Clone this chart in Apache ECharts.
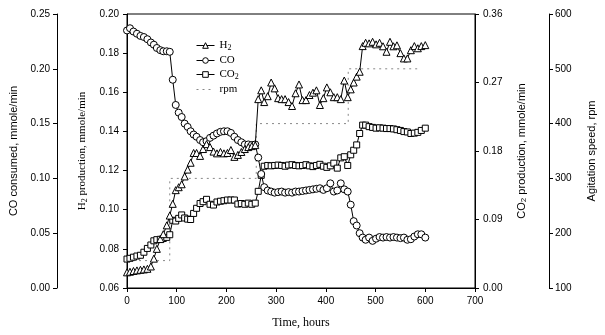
<!DOCTYPE html>
<html><head><meta charset="utf-8">
<script src="https://cdn.jsdelivr.net/npm/echarts@6/dist/echarts.min.js"></script>
<style>html,body{margin:0;padding:0;background:#fff}#c{width:605px;height:335px}</style>
</head><body><div id="c"></div>
<script>
const hours = [0,6,13,20,27,34,41,48,54,60,67,73,80,86,92,98,104,110,116,122,128,134,140,147,153,160,167,174,181,188,195,202,209,216,223,230,237,244,251,258,264,270,276,283,290,297,304,311,318,325,332,339,346,353,360,367,374,381,388,395,402,409,416,423,430,437,444,450,456,462,468,474,480,487,494,501,508,515,522,529,536,543,550,557,564,571,578,585,592,600];
const h2 = [0.068,0.0683,0.0687,0.069,0.0693,0.0695,0.0698,0.071,0.075,0.080,0.085,0.0875,0.092,0.097,0.103,0.110,0.1115,0.113,0.117,0.1205,0.124,0.129,0.129,0.1275,0.131,0.1335,0.132,0.1297,0.1288,0.1295,0.1288,0.129,0.1305,0.127,0.128,0.1295,0.131,0.132,0.1325,0.133,0.1565,0.161,0.155,0.158,0.165,0.162,0.157,0.1565,0.1565,0.155,0.153,0.1595,0.164,0.156,0.156,0.1586,0.1598,0.161,0.1535,0.157,0.1625,0.160,0.1575,0.1575,0.1565,0.166,0.1575,0.1615,0.165,0.168,0.1705,0.1836,0.1853,0.185,0.1858,0.1845,0.1853,0.1835,0.1807,0.1858,0.1835,0.184,0.180,0.1773,0.1773,0.1815,0.1836,0.1825,0.1836,0.1841];
const co = [0.235,0.237,0.234,0.232,0.230,0.229,0.227,0.224,0.222,0.219,0.217,0.216,0.216,0.2155,0.190,0.167,0.160,0.156,0.150,0.147,0.143,0.140,0.138,0.135,0.133,0.134,0.137,0.139,0.141,0.1425,0.143,0.143,0.1415,0.138,0.135,0.133,0.131,0.131,0.1305,0.131,0.119,0.104,0.092,0.089,0.088,0.087,0.0875,0.088,0.087,0.0875,0.087,0.088,0.088,0.0885,0.089,0.0895,0.090,0.0905,0.091,0.0895,0.091,0.0955,0.088,0.089,0.0955,0.090,0.088,0.076,0.061,0.057,0.050,0.046,0.044,0.046,0.043,0.045,0.0465,0.046,0.0465,0.046,0.0465,0.046,0.0455,0.046,0.044,0.0445,0.047,0.049,0.049,0.046];
const co2 = [0.038,0.039,0.0405,0.042,0.043,0.047,0.052,0.0565,0.062,0.0635,0.064,0.065,0.0665,0.070,0.089,0.088,0.0915,0.096,0.092,0.0905,0.090,0.098,0.1047,0.111,0.1134,0.1165,0.110,0.109,0.113,0.114,0.1147,0.1156,0.1156,0.1156,0.1103,0.111,0.110,0.1115,0.110,0.1115,0.127,0.148,0.160,0.161,0.1605,0.161,0.1615,0.161,0.160,0.1615,0.162,0.161,0.1605,0.161,0.162,0.1605,0.1595,0.161,0.1625,0.160,0.1585,0.1605,0.164,0.1575,0.171,0.1725,0.161,0.175,0.181,0.188,0.203,0.214,0.214,0.212,0.211,0.210,0.2105,0.210,0.2095,0.2095,0.209,0.208,0.207,0.2055,0.205,0.203,0.2035,0.2045,0.207,0.210];
const rpmHours = [0,86,86,260,260,445,445,585];
const rpmValues = [150,150,300,300,400,400,500,500];
const xTicks = {min:0,max:700,interval:100};

const SANS = 'Liberation Sans';
const SERIF = 'Liberation Serif';
const sub = {fontSize:8, fontFamily:SERIF, verticalAlign:'bottom', padding:[5,0,0,0]};
const subSans = {fontSize:8, fontFamily:SANS, verticalAlign:'bottom', padding:[5,0,0,0]};
const lbl = {color:'#000', fontFamily:SANS, fontSize:10};
const axLine = {show:true, lineStyle:{color:'#000', width:1}};
const axTick = {show:true, length:4, lineStyle:{color:'#000'}};
const mk = {color:'#fff', borderColor:'#000', borderWidth:1};

function pairs(xs, ys){ return xs.map((t,i)=>[t, ys[i]]); }

const chart = echarts.init(document.getElementById('c'), null, {renderer:'canvas'});
chart.setOption({
  animation:false,
  backgroundColor:'#fff',
  grid:{left:127, right:130, top:14, bottom:47, show:true, borderColor:'#000', borderWidth:1, backgroundColor:'transparent'},
  legend:{
    orient:'vertical', left:191, top:35, itemWidth:18, itemHeight:7, itemGap:3,
    lineStyle:{width:1},
    itemStyle:{borderWidth:1},
    data:['H2','CO','CO2',{name:'rpm', itemStyle:{color:'transparent', borderColor:'transparent'}}],
    formatter: n => n==='H2' ? 'H{s|2}' : n==='CO2' ? 'CO{s|2}' : n,
    textStyle:{fontFamily:SERIF, fontSize:11, color:'#000', rich:{s:sub}}
  },
  xAxis:{
    type:'value', min:xTicks.min, max:xTicks.max, interval:xTicks.interval,
    name:'Time, hours', nameLocation:'middle', nameGap:29,
    nameTextStyle:{fontFamily:SERIF, fontSize:12, color:'#000'},
    axisLine:axLine, axisTick:axTick, splitLine:{show:false},
    axisLabel:Object.assign({margin:8}, lbl)
  },
  yAxis:[
    {type:'value', position:'left', offset:0, min:0.06, max:0.20, interval:0.02,
     name:'H{s|2} production, mmole/min', nameLocation:'middle', nameGap:32, nameRotate:90,
     nameTextStyle:{fontFamily:SERIF, fontSize:11, color:'#000', rich:{s:sub}},
     axisLine:axLine, axisTick:axTick, splitLine:{show:false},
     axisLabel:Object.assign({margin:8, formatter:v=>v.toFixed(2)}, lbl)},
    {type:'value', position:'left', offset:70, min:0, max:0.25, interval:0.05,
     name:'CO consumed, mmole/min', nameLocation:'middle', nameGap:38, nameRotate:90,
     nameTextStyle:{fontFamily:SANS, fontSize:11, color:'#000'},
     axisLine:axLine, axisTick:axTick, splitLine:{show:false},
     axisLabel:Object.assign({margin:7, formatter:v=>v.toFixed(2)}, lbl)},
    {type:'value', position:'right', offset:0, min:0, max:0.36, interval:0.09,
     name:'CO{s|2} production, mmole/min', nameLocation:'middle', nameGap:40, nameRotate:90,
     nameTextStyle:{fontFamily:SANS, fontSize:11, color:'#000', rich:{s:subSans}},
     axisLine:axLine, axisTick:axTick, splitLine:{show:false},
     axisLabel:Object.assign({margin:8, formatter:v=>v.toFixed(2)}, lbl)},
    {type:'value', position:'right', offset:74, min:100, max:600, interval:100,
     name:'Agitation speed, rpm', nameLocation:'middle', nameGap:37, nameRotate:90,
     nameTextStyle:{fontFamily:SANS, fontSize:11, color:'#000'},
     axisLine:axLine, axisTick:axTick, splitLine:{show:false},
     axisLabel:Object.assign({margin:6}, lbl)}
  ],
  series:[
    {name:'rpm', type:'line', yAxisIndex:3, data:pairs(rpmHours, rpmValues), symbol:'none',
     lineStyle:{color:'#888', width:1, type:[2,4]}, itemStyle:{color:'#888'}, z:1},
    {name:'CO2', type:'line', yAxisIndex:2, data:pairs(hours, co2), symbol:'rect', symbolSize:6,
     lineStyle:{color:'#000', width:1}, itemStyle:mk, z:2},
    {name:'CO', type:'line', yAxisIndex:1, data:pairs(hours, co), symbol:'circle', symbolSize:7,
     lineStyle:{color:'#000', width:1}, itemStyle:mk, z:3},
    {name:'H2', type:'line', yAxisIndex:0, data:pairs(hours, h2), symbol:'triangle', symbolSize:7,
     lineStyle:{color:'#000', width:1}, itemStyle:mk, z:4}
  ]
});
</script></body></html>
